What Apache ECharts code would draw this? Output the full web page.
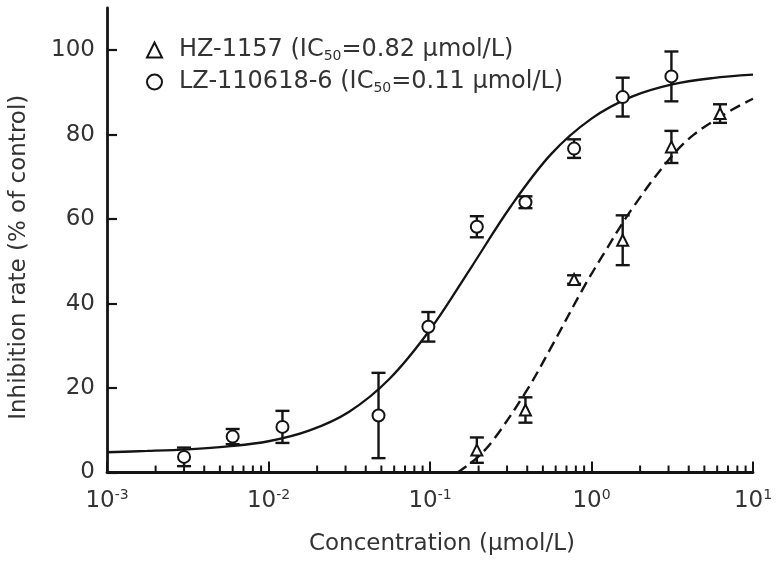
<!DOCTYPE html>
<html>
<head>
<meta charset="utf-8">
<script src="https://cdn.jsdelivr.net/npm/echarts@6/dist/echarts.min.js"></script>
<style>html,body{margin:0;padding:0;background:#fff}#c{width:781px;height:562px}</style>
</head>
<body>
<div id="c"></div>
<script>
// ---- data ----
const seriesNames = ['HZ-1157', 'LZ-110618-6'];
const ic50Labels = ['0.82', '0.11'];

// HZ-1157 (triangles)
const hzConc = [0.195, 0.39, 0.78, 1.56, 3.125, 6.25];
const hzMean = [5.3, 14.8, 45.7, 55.0, 77.1, 85.0];
const hzErr  = [3.0, 3.0, 1.0, 5.9, 3.8, 2.2];

// LZ-110618-6 (circles)
const lzConc = [0.003, 0.006, 0.0122, 0.048, 0.0977, 0.195, 0.39, 0.78, 1.56, 3.125];
const lzMean = [3.7, 8.5, 10.8, 13.5, 34.5, 58.2, 64.0, 76.7, 88.9, 93.8];
const lzErr  = [2.2, 1.8, 3.8, 10.1, 3.5, 2.5, 1.4, 2.2, 4.6, 5.9];

// fitted curves
const lzCurveX = [0.001, 0.00178, 0.00316, 0.00562, 0.01, 0.0178, 0.0316, 0.0562, 0.1, 0.178, 0.316, 0.562, 1, 1.78, 3.16, 5.62, 10];
const lzCurveY = [4.8, 5.1, 5.5, 6.2, 7.4, 9.9, 14.4, 22.2, 33.8, 48.3, 63.0, 75.4, 83.8, 89.0, 91.9, 93.4, 94.2];
const hzCurveX = [0.148, 0.197, 0.25, 0.4, 0.56, 0.9, 1.2, 1.75, 3.0, 4.3, 7.5, 10];
const hzCurveY = [0, 3.6, 8.0, 19.6, 29.5, 44, 52, 62, 74, 80, 86, 88.5];

// axes
const xTickExponents = ['-3', '-2', '-1', '0', '1'];
const yTicks = [0, 20, 40, 60, 80, 100];
const xMinorTicks = [0.002,0.003,0.004,0.005,0.006,0.007,0.008,0.009,
                     0.02,0.03,0.04,0.05,0.06,0.07,0.08,0.09,
                     0.2,0.3,0.4,0.5,0.6,0.7,0.8,0.9,
                     2,3,4,5,6,7,8,9];
const xAxisTitle = 'Concentration (μmol/L)';
const yAxisTitle = 'Inhibition rate (% of control)';

// ---- build ----
const FONT = 'DejaVu Sans';
const TXT = '#333';
const INK = '#141414';
const zip = (a, b) => a.map((v, i) => [v, b[i]]);
const zip3 = (a, b, c) => a.map((v, i) => [v, b[i], c[i]]);

function errorBars(params, api) {
  const x = api.value(0), y = api.value(1), e = api.value(2);
  const t = api.coord([x, y + e]);
  const b = api.coord([x, y - e]);
  const hw = 7;
  const st = { stroke: INK, lineWidth: 2.4 };
  return { type: 'group', children: [
    { type: 'line', shape: { x1: t[0], y1: t[1], x2: b[0], y2: b[1] }, style: st },
    { type: 'line', shape: { x1: t[0] - hw, y1: t[1], x2: t[0] + hw, y2: t[1] }, style: st },
    { type: 'line', shape: { x1: b[0] - hw, y1: b[1], x2: b[0] + hw, y2: b[1] }, style: st }
  ]};
}

function minorTick(params, api) {
  const p = api.coord([api.value(0), 0]);
  return { type: 'line', shape: { x1: p[0], y1: p[1], x2: p[0], y2: p[1] - 7 },
           style: { stroke: INK, lineWidth: 2 } };
}

const chart = echarts.init(document.getElementById('c'), null, { renderer: 'canvas' });
chart.setOption({
  animation: false,
  backgroundColor: '#fff',
  grid: { left: 105, right: 28, top: 8, bottom: 89.5, containLabel: false },
  legend: {
    orient: 'vertical', left: 141, top: 33, itemGap: 7,
    itemWidth: 15, itemHeight: 15,
    data: seriesNames,
    formatter: function (name) {
      const i = seriesNames.indexOf(name);
      return '{a|' + name + ' (IC}{s|50}{a|=' + ic50Labels[i] + ' μmol/L)}';
    },
    textStyle: {
      padding: [0, 0, 0, 12],
      rich: {
        a: { fontFamily: FONT, fontSize: 24, color: TXT, lineHeight: 26 },
        s: { fontFamily: FONT, fontSize: 14, color: TXT, lineHeight: 14, verticalAlign: 'bottom' }
      }
    }
  },
  xAxis: {
    type: 'log', logBase: 10, min: 0.001, max: 10,
    name: xAxisTitle, nameLocation: 'middle', nameGap: 60,
    nameTextStyle: { fontFamily: FONT, fontSize: 23, color: TXT, padding: [0, 0, 0, 24] },
    axisLine: { onZero: false, lineStyle: { color: INK, width: 2.8 } },
    axisTick: { show: true, inside: true, length: 11, lineStyle: { color: INK, width: 2 } },
    splitLine: { show: false },
    axisLabel: {
      margin: 16,
      formatter: function (v) {
        const e = Math.round(Math.log10(v));
        const lab = xTickExponents.find(s => Number(s) === e);
        return '{b|10}{p|' + (lab !== undefined ? lab : e) + '}';
      },
      rich: {
        b: { fontFamily: FONT, fontSize: 23, color: TXT, lineHeight: 26 },
        p: { fontFamily: FONT, fontSize: 14, color: TXT, lineHeight: 14, verticalAlign: 'top' }
      }
    }
  },
  yAxis: {
    type: 'value', min: 0, max: 110, interval: 20,
    name: yAxisTitle, nameLocation: 'middle', nameGap: 76, nameRotate: 90,
    nameTextStyle: { fontFamily: FONT, fontSize: 23, color: TXT, padding: [0, 34, 0, 0] },
    axisLine: { show: true, lineStyle: { color: INK, width: 2.8 } },
    axisTick: { show: true, inside: true, length: 10, customValues: yTicks, lineStyle: { color: INK, width: 2.2 } },
    splitLine: { show: false },
    axisLabel: {
      margin: 12, fontFamily: FONT, fontSize: 23, color: TXT, customValues: yTicks,
      formatter: function (v) { return yTicks.indexOf(v) >= 0 ? String(v) : ''; }
    }
  },
  series: [
    {
      name: 'minorTicks', type: 'custom', silent: true, clip: false,
      renderItem: minorTick, data: xMinorTicks.map(v => [v, 0]), z: 1
    },
    {
      name: 'lzCurve', type: 'line', data: zip(lzCurveX, lzCurveY), smooth: 0.35,
      showSymbol: false, silent: true,
      lineStyle: { color: INK, width: 2.3, type: 'solid' }, z: 2
    },
    {
      name: 'hzCurve', type: 'line', data: zip(hzCurveX, hzCurveY), smooth: 0.35,
      showSymbol: false, silent: true,
      lineStyle: { color: INK, width: 2.4, type: [11, 6] }, z: 2
    },
    {
      name: 'lzErr', type: 'custom', renderItem: errorBars, silent: true,
      data: zip3(lzConc, lzMean, lzErr), z: 3
    },
    {
      name: 'hzErr', type: 'custom', renderItem: errorBars, silent: true,
      data: zip3(hzConc, hzMean, hzErr), z: 3
    },
    {
      name: seriesNames[0], type: 'scatter', data: zip(hzConc, hzMean),
      symbol: 'triangle', symbolSize: 11,
      itemStyle: { color: '#fff', opacity: 1, borderColor: INK, borderWidth: 2 }, z: 4
    },
    {
      name: seriesNames[1], type: 'scatter', data: zip(lzConc, lzMean),
      symbol: 'circle', symbolSize: 12,
      itemStyle: { color: '#fff', opacity: 1, borderColor: INK, borderWidth: 2 }, z: 4
    }
  ]
});
</script>
</body>
</html>
